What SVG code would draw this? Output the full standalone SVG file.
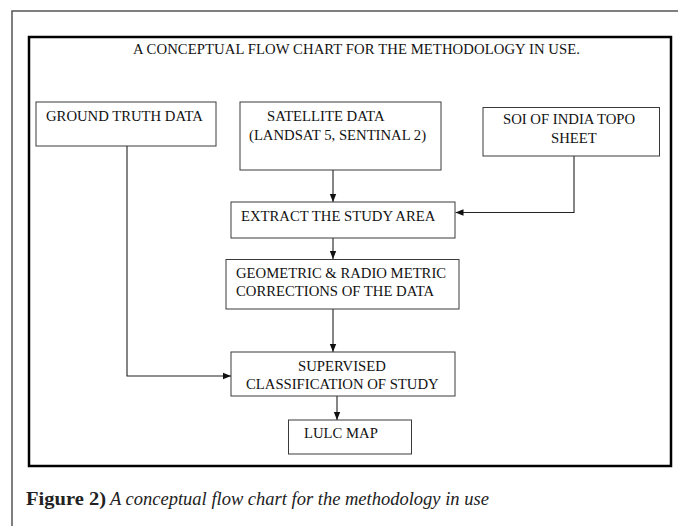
<svg xmlns="http://www.w3.org/2000/svg" width="678" height="526" viewBox="0 0 678 526">
<defs>
<style>
.box{fill:#fff;stroke:#3a3a3a;stroke-width:1}
.t{font-family:"Liberation Serif","Times New Roman",serif;font-size:14.7px;fill:#111}
.conn{fill:none;stroke:#222;stroke-width:1.1}
.cap{font-family:"Liberation Serif","Times New Roman",serif;font-size:18.5px;fill:#222}
</style>
<marker id="ah" markerUnits="userSpaceOnUse" markerWidth="8" markerHeight="8" viewBox="0 0 8 8" refX="8" refY="4" orient="auto">
<path d="M0,0.8 L8,4 L0,7.2 Z" fill="#111"/>
</marker>
</defs>
<rect width="678" height="526" fill="#fff"/>
<path d="M12,526 V11 H678" fill="none" stroke="#555" stroke-width="1.5"/>
<rect x="29" y="37" width="642" height="429" fill="#fff" stroke="#000" stroke-width="2.5"/>
<text class="t" x="133" y="54" textLength="447">A CONCEPTUAL FLOW CHART FOR THE METHODOLOGY IN USE.</text>

<g id="connectors">
<path class="conn" d="M333,170 V202" marker-end="url(#ah)"/>
<path class="conn" d="M574,156 V212.5 H455.5" marker-end="url(#ah)"/>
<path class="conn" d="M333,238 V259" marker-end="url(#ah)"/>
<path class="conn" d="M333,309 V352" marker-end="url(#ah)"/>
<path class="conn" d="M127,146 V376 H231" marker-end="url(#ah)"/>
<path class="conn" d="M337,396 V420" marker-end="url(#ah)"/>
</g>

<g id="ground-truth">
<rect class="box" x="36" y="102" width="180" height="44"/>
<text class="t" x="46" y="121">GROUND TRUTH DATA</text>
</g>
<g id="satellite">
<rect class="box" x="240" y="102" width="201" height="68"/>
<text class="t" x="267" y="121">SATELLITE DATA</text>
<text class="t" x="249" y="140">(LANDSAT 5, SENTINAL 2)</text>
</g>
<g id="soi">
<rect class="box" x="483" y="107.5" width="176.5" height="48.5"/>
<text class="t" x="503" y="124">SOI OF INDIA TOPO</text>
<text class="t" x="551" y="143">SHEET</text>
</g>
<g id="extract">
<rect class="box" x="231" y="202" width="224" height="36"/>
<text class="t" x="241" y="221">EXTRACT THE STUDY AREA</text>
</g>
<g id="geometric">
<rect class="box" x="226" y="259.5" width="233" height="49.5"/>
<text class="t" x="236" y="277.5">GEOMETRIC &amp; RADIO METRIC</text>
<text class="t" x="236" y="296">CORRECTIONS OF THE DATA</text>
</g>
<g id="supervised">
<rect class="box" x="231" y="352" width="224" height="44"/>
<text class="t" x="298" y="371">SUPERVISED</text>
<text class="t" x="246" y="389">CLASSIFICATION OF STUDY</text>
</g>
<g id="lulc">
<rect class="box" x="288.5" y="420" width="123" height="34"/>
<text class="t" x="304" y="437.5">LULC MAP</text>
</g>

<text class="cap" x="26" y="505"><tspan font-weight="bold" textLength="80" lengthAdjust="spacingAndGlyphs">Figure 2)</tspan><tspan font-style="italic" x="110">A conceptual flow chart for the methodology in use</tspan></text>
</svg>
